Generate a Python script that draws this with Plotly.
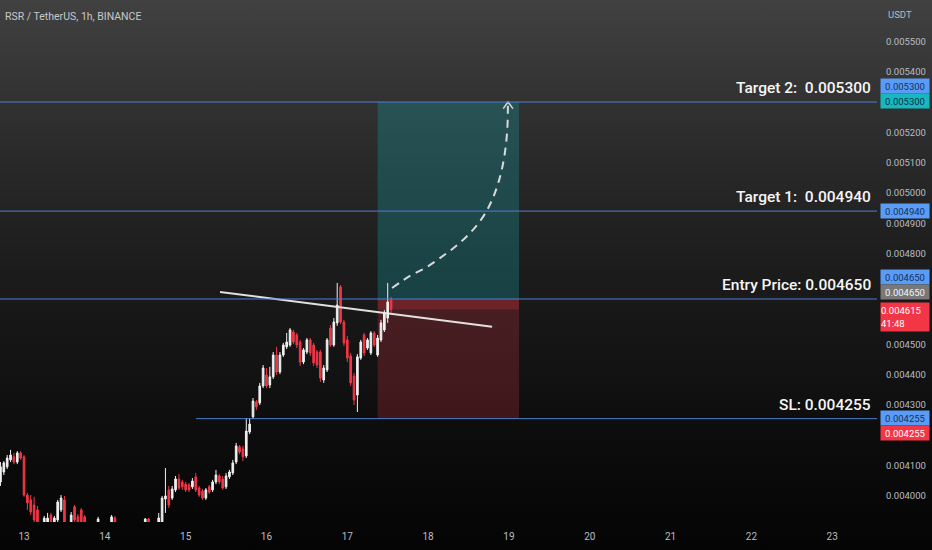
import base64
import pandas as pd
import plotly.graph_objects as go

# ---------------- data ----------------
start_time = "2024-03-12 17:00"   # first hourly candle
opens = [0.004046, 0.004079, 0.004096, 0.004119, 0.004129, 0.004112, 0.004142,
         0.004129, 0.004003, 0.003987, 0.003970, 0.003954, 0.003894, 0.003894, 0.003904,
         0.003937, 0.003901, 0.003921, 0.003954, 0.003987, 0.003898, 0.003901, 0.003964,
         0.003931, 0.003954, 0.003931, 0.003901, 0.003894, 0.003901, 0.003898, 0.003907,
         0.003894, 0.003898, 0.003901, 0.003927, 0.003904, 0.003894, 0.003888, 0.003898,
         0.003891, 0.003881, 0.003894, 0.003888, 0.003898, 0.003924, 0.003904, 0.003894,
         0.003898, 0.003901, 0.003990, 0.004020, 0.003993, 0.004020, 0.004056, 0.004046,
         0.004039, 0.004036, 0.004030, 0.004063, 0.004026, 0.004016, 0.003993, 0.004030,
         0.004020, 0.004046, 0.004066, 0.004056, 0.004030, 0.004063, 0.004076, 0.004112,
         0.004162, 0.004155, 0.004132, 0.004211, 0.004261, 0.004310, 0.004307, 0.004363,
         0.004399, 0.004366, 0.004393, 0.004465, 0.004409, 0.004465, 0.004492, 0.004498,
         0.004541, 0.004531, 0.004508, 0.004442, 0.004475, 0.004515, 0.004498, 0.004475,
         0.004475, 0.004383, 0.004416, 0.004554, 0.004498, 0.004571, 0.004690, 0.004574,
         0.004515, 0.004462, 0.004396, 0.004333, 0.004455, 0.004531, 0.004488, 0.004472,
         0.004538, 0.004465, 0.004515, 0.004548, 0.004587, 0.004647]
highs = [0.004112, 0.004115, 0.004135, 0.004152, 0.004142, 0.004148, 0.004148,
         0.004135, 0.004010, 0.004003, 0.003997, 0.003967, 0.003907, 0.003934, 0.003944,
         0.003944, 0.003934, 0.003987, 0.004003, 0.004000, 0.003907, 0.003947, 0.003970,
         0.003940, 0.003960, 0.003937, 0.003907, 0.003904, 0.003907, 0.003931, 0.003907,
         0.003904, 0.003907, 0.003937, 0.003934, 0.003907, 0.003904, 0.003901, 0.003907,
         0.003901, 0.003898, 0.003904, 0.003901, 0.003927, 0.003927, 0.003907, 0.003904,
         0.003944, 0.004000, 0.004092, 0.004033, 0.004033, 0.004066, 0.004072, 0.004053,
         0.004046, 0.004043, 0.004059, 0.004076, 0.004033, 0.004023, 0.004026, 0.004036,
         0.004053, 0.004086, 0.004072, 0.004066, 0.004076, 0.004086, 0.004119, 0.004175,
         0.004168, 0.004165, 0.004257, 0.004257, 0.004323, 0.004317, 0.004373, 0.004432,
         0.004422, 0.004426, 0.004475, 0.004492, 0.004475, 0.004505, 0.004538, 0.004554,
         0.004548, 0.004538, 0.004515, 0.004488, 0.004521, 0.004521, 0.004505, 0.004482,
         0.004482, 0.004432, 0.004521, 0.004564, 0.004587, 0.004703, 0.004696, 0.004581,
         0.004528, 0.004472, 0.004406, 0.004468, 0.004515, 0.004538, 0.004521, 0.004544,
         0.004544, 0.004531, 0.004581, 0.004614, 0.004703, 0.004657]
lows = [0.004033, 0.004069, 0.004089, 0.004112, 0.004105, 0.004105, 0.004119,
        0.003997, 0.003954, 0.003937, 0.003907, 0.003871, 0.003881, 0.003888, 0.003894,
        0.003888, 0.003894, 0.003914, 0.003947, 0.003894, 0.003878, 0.003894, 0.003907,
        0.003891, 0.003894, 0.003898, 0.003888, 0.003881, 0.003888, 0.003891, 0.003888,
        0.003881, 0.003888, 0.003894, 0.003898, 0.003888, 0.003878, 0.003871, 0.003881,
        0.003871, 0.003871, 0.003881, 0.003878, 0.003891, 0.003894, 0.003888, 0.003881,
        0.003891, 0.003894, 0.003944, 0.003960, 0.003987, 0.004013, 0.004020, 0.004020,
        0.004013, 0.004013, 0.004023, 0.004013, 0.003997, 0.003987, 0.003987, 0.004006,
        0.004013, 0.004039, 0.004039, 0.004020, 0.004023, 0.004056, 0.004069, 0.004105,
        0.004138, 0.004115, 0.004125, 0.004204, 0.004254, 0.004284, 0.004300, 0.004356,
        0.004356, 0.004356, 0.004386, 0.004399, 0.004402, 0.004459, 0.004485, 0.004492,
        0.004501, 0.004488, 0.004429, 0.004435, 0.004468, 0.004462, 0.004429, 0.004422,
        0.004376, 0.004373, 0.004409, 0.004492, 0.004492, 0.004561, 0.004567, 0.004495,
        0.004442, 0.004363, 0.004300, 0.004277, 0.004449, 0.004462, 0.004482, 0.004465,
        0.004492, 0.004459, 0.004508, 0.004541, 0.004571, 0.004604]
closes = [0.004096, 0.004109, 0.004125, 0.004135, 0.004112, 0.004142, 0.004125,
          0.004003, 0.003977, 0.003947, 0.003921, 0.003888, 0.003901, 0.003927, 0.003927,
          0.003898, 0.003927, 0.003980, 0.003993, 0.003904, 0.003888, 0.003937, 0.003921,
          0.003901, 0.003901, 0.003907, 0.003894, 0.003901, 0.003898, 0.003924, 0.003894,
          0.003898, 0.003901, 0.003931, 0.003904, 0.003894, 0.003888, 0.003898, 0.003891,
          0.003881, 0.003894, 0.003888, 0.003898, 0.003924, 0.003904, 0.003894, 0.003898,
          0.003927, 0.003993, 0.004000, 0.003970, 0.004023, 0.004056, 0.004026, 0.004030,
          0.004020, 0.004020, 0.004049, 0.004020, 0.004003, 0.003993, 0.004020, 0.004013,
          0.004046, 0.004069, 0.004046, 0.004026, 0.004066, 0.004079, 0.004109, 0.004165,
          0.004145, 0.004129, 0.004214, 0.004237, 0.004313, 0.004294, 0.004363, 0.004422,
          0.004363, 0.004393, 0.004465, 0.004409, 0.004465, 0.004498, 0.004508, 0.004548,
          0.004508, 0.004498, 0.004442, 0.004482, 0.004515, 0.004472, 0.004439, 0.004432,
          0.004389, 0.004422, 0.004515, 0.004498, 0.004574, 0.004630, 0.004574, 0.004505,
          0.004455, 0.004373, 0.004317, 0.004459, 0.004508, 0.004472, 0.004515, 0.004538,
          0.004498, 0.004521, 0.004571, 0.004604, 0.004640, 0.004615]

day_ticks = ["2024-03-13", "2024-03-14", "2024-03-15", "2024-03-16", "2024-03-17", "2024-03-18",
             "2024-03-19", "2024-03-20", "2024-03-21", "2024-03-22", "2024-03-23"]
day_labels = ["13", "14", "15", "16", "17", "18", "19", "20", "21", "22", "23"]
x_range = ["2024-03-12 16:52", "2024-03-23 13:18"]
y_range = [0.003914, 0.0056366]

target2 = 0.005300
target1 = 0.004940
entry = 0.004650
stop_loss = 0.004255
last_price = 0.004615
countdown = "41:48"
sl_line_start = "2024-03-15 03:06"
pos_start = "2024-03-17 09:00"
pos_end = "2024-03-19 03:00"

trend_x = ["2024-03-15 10:12", "2024-03-18 19:00"]
trend_y = [0.004673, 0.004558]

proj_x = ["2024-03-17 13:18", "2024-03-17 18:36", "2024-03-17 23:06", "2024-03-18 03:30",
          "2024-03-18 08:00", "2024-03-18 12:30", "2024-03-18 16:18", "2024-03-18 19:00",
          "2024-03-18 21:06", "2024-03-18 22:36", "2024-03-18 23:30", "2024-03-18 23:42"]
proj_y = [0.004686, 0.004726, 0.004752, 0.004785, 0.004822, 0.004868, 0.004921, 0.004977,
          0.005043, 0.005118, 0.005208, 0.005300]
arrow_x = ["2024-03-18 22:18", "2024-03-18 23:42", "2024-03-19 01:12"]
arrow_y = [0.005278, 0.005300, 0.005278]

# visible price-scale ticks (others are hidden behind the price labels)
y_ticks = [0.0040, 0.0041, 0.0043, 0.0044, 0.0045, 0.0048,
           0.0049, 0.0050, 0.0051, 0.0052, 0.0054, 0.0055]

times = pd.date_range(start_time, periods=len(opens), freq="h")

# ---------------- figure ----------------
W, H = 932, 550
ML, MR, MT, MB = 0, 55, 0, 28
PW, PH = W - ML - MR, H - MT - MB

FONT = "Roboto, Liberation Sans, sans-serif"
TXT = "#b8bcc4"
BLUE_LINE = "#4f7fd0"

fig = go.Figure()
fig.add_trace(go.Candlestick(
    x=times, open=opens, high=highs, low=lows, close=closes,
    increasing=dict(line=dict(color="#f0f0f0", width=1), fillcolor="#f0f0f0"),
    decreasing=dict(line=dict(color="#f23645", width=1), fillcolor="#f23645"),
    whiskerwidth=0, showlegend=False, hoverinfo="skip",
))
fig.add_trace(go.Scatter(x=trend_x, y=trend_y, mode="lines",
                         line=dict(color="rgba(235,235,235,0.95)", width=2),
                         showlegend=False, hoverinfo="skip"))
fig.add_trace(go.Scatter(x=proj_x, y=proj_y, mode="lines", line_shape="spline",
                         line=dict(color="rgba(225,225,225,0.95)", width=2, dash="8px,6px"),
                         showlegend=False, hoverinfo="skip"))
fig.add_trace(go.Scatter(x=arrow_x, y=arrow_y, mode="lines",
                         line=dict(color="rgba(225,225,225,0.95)", width=1.5),
                         showlegend=False, hoverinfo="skip"))

# gradient background
svg = ('<svg xmlns="http://www.w3.org/2000/svg" width="932" height="550" preserveAspectRatio="none">'
       '<defs><linearGradient id="g" x1="0" y1="0" x2="0" y2="1">'
       '<stop offset="0" stop-color="#414141"/>'
       '<stop offset="0.25" stop-color="#2c2c2c"/>'
       '<stop offset="0.5" stop-color="#1b1b1b"/>'
       '<stop offset="0.78" stop-color="#0d0d0d"/>'
       '<stop offset="1" stop-color="#040404"/>'
       '</linearGradient></defs><rect width="932" height="550" fill="url(#g)"/></svg>')
src = "data:image/svg+xml;base64," + base64.b64encode(svg.encode()).decode()
fig.add_layout_image(dict(source=src, xref="paper", yref="paper", x=0, y=1,
                          sizex=W / PW, sizey=H / PH, xanchor="left", yanchor="top",
                          sizing="stretch", layer="below"))

# position tool boxes
fig.add_shape(type="rect", xref="x", yref="y", x0=pos_start, x1=pos_end, y0=entry, y1=target2,
              fillcolor="rgba(22,160,170,0.30)", line_width=0, layer="below")
fig.add_shape(type="rect", xref="x", yref="y", x0=pos_start, x1=pos_end, y0=stop_loss, y1=entry,
              fillcolor="rgba(242,54,69,0.22)", line_width=0, layer="below")
fig.add_shape(type="rect", xref="x", yref="y", x0=pos_start, x1=pos_end, y0=last_price, y1=entry,
              fillcolor="rgba(242,54,69,0.22)", line_width=0, layer="below")

# horizontal levels
for lvl in (target2, target1, entry):
    fig.add_shape(type="line", xref="paper", yref="y", x0=0, x1=1, y0=lvl, y1=lvl,
                  line=dict(color=BLUE_LINE, width=1), layer="above")
fig.add_shape(type="line", xref="x", yref="y", x0=sl_line_start, x1=x_range[1],
              y0=stop_loss, y1=stop_loss, line=dict(color=BLUE_LINE, width=1), layer="above")

# level captions
captions = [(target2, "Target 2:  0.005300"), (target1, "Target 1:  0.004940"),
            (entry, "Entry Price: 0.004650"), (stop_loss, "SL: 0.004255")]
for lvl, txt in captions:
    fig.add_annotation(xref="paper", yref="y", x=1, y=lvl, xanchor="right", yanchor="bottom",
                       xshift=-4, yshift=3, text=txt, showarrow=False,
                       font=dict(family=FONT, size=15.5, color="#f6f6f6", weight=500))

# price-scale labels
def price_box(val, text, bg, fg, shift=0, height=14):
    fig.add_annotation(xref="paper", yref="y", x=1, y=val, xanchor="left", yanchor="middle",
                       xshift=3, yshift=shift, text=text, showarrow=False, width=48, height=height,
                       bgcolor=bg, borderpad=0, align="center",
                       font=dict(family=FONT, size=9.5, color=fg))

price_box(target2, f"{target2:.6f}", "#5a9cf5", "#14305e", shift=16)
price_box(target2, f"{target2:.6f}", "#17b8bd", "#0f2e4e", shift=1)
price_box(target1, f"{target1:.6f}", "#5a9cf5", "#14305e", shift=0)
price_box(entry, f"{entry:.6f}", "#5a9cf5", "#14305e", shift=22)
price_box(entry, f"{entry:.6f}", "#787878", "#f5f5f5", shift=7)
fig.add_annotation(xref="paper", yref="y", x=1, y=last_price, xanchor="left", yanchor="top",
                   xshift=3, yshift=8, text=f"{last_price:.6f}<br>{countdown}", showarrow=False,
                   width=48, height=28, bgcolor="#f23645", borderpad=0, align="left",
                   font=dict(family=FONT, size=9.5, color="#ffffff"))
price_box(stop_loss, f"{stop_loss:.6f}", "#5a9cf5", "#14305e", shift=1)
price_box(stop_loss, f"{stop_loss:.6f}", "#f23645", "#ffffff", shift=-14)

# header texts
fig.add_annotation(xref="paper", yref="paper", x=0, y=1, xanchor="left", yanchor="top",
                   xshift=3, yshift=-8, text="RSR / TetherUS, 1h, BINANCE", showarrow=False,
                   font=dict(family=FONT, size=10.5, color="#c8c8c8"))
fig.add_annotation(xref="paper", yref="paper", x=1, y=1, xanchor="left", yanchor="top",
                   xshift=9, yshift=-7, text="USDT", showarrow=False,
                   font=dict(family=FONT, size=9.5, color=TXT))

fig.update_layout(
    width=W, height=H, margin=dict(l=ML, r=MR, t=MT, b=MB),
    paper_bgcolor="#000000", plot_bgcolor="rgba(0,0,0,0)",
    showlegend=False, hovermode=False,
    xaxis=dict(range=x_range, type="date", rangeslider=dict(visible=False),
               tickvals=day_ticks, ticktext=day_labels, showgrid=False, zeroline=False,
               showline=False, ticks="", tickfont=dict(family=FONT, size=10, color=TXT),
               ticklabelstandoff=7),
    yaxis=dict(range=y_range, side="right", tickvals=y_ticks, tickformat=".6f",
               showgrid=False, zeroline=False, showline=False, ticks="",
               tickfont=dict(family=FONT, size=9.5, color=TXT), ticklabelstandoff=8),
)

fig.write_html(
    "out.html",
    config={"displayModeBar": False},
    post_script="document.body.style.margin='0';document.body.style.overflow='hidden';"
                "document.body.style.background='#000';",
)
